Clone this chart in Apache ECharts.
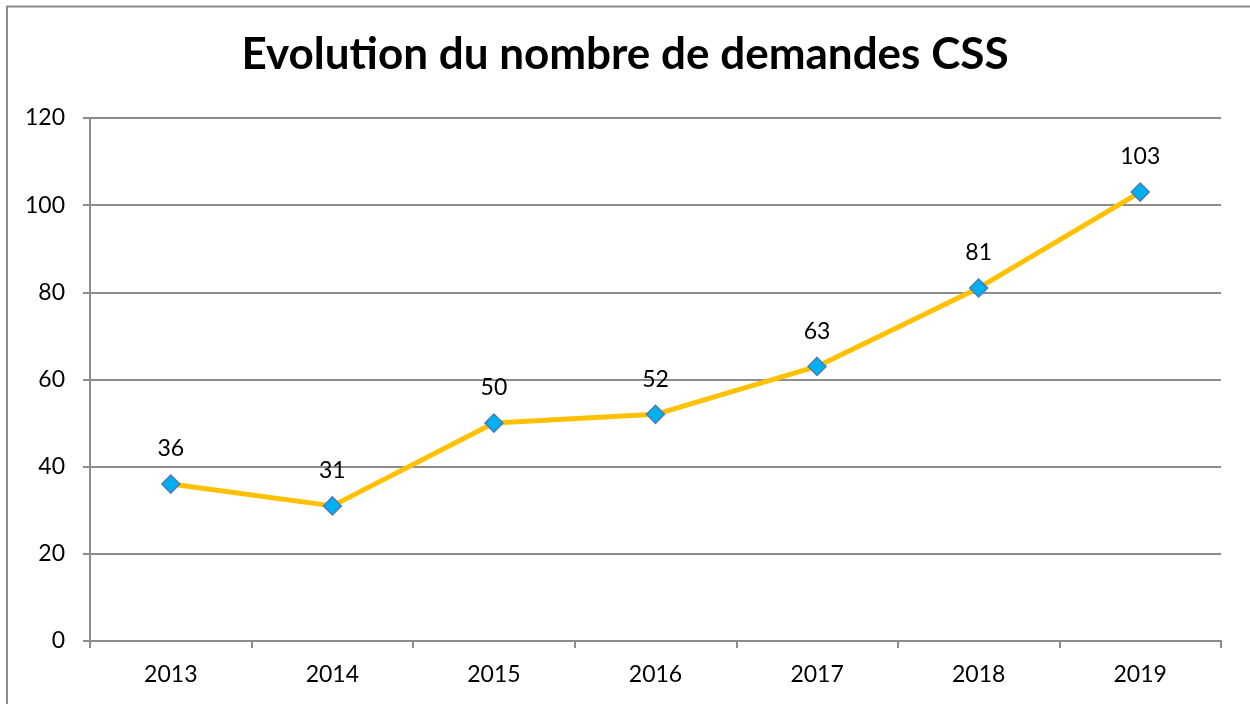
<!DOCTYPE html>
<html>
<head>
<meta charset="utf-8">
<title>Evolution du nombre de demandes CSS</title>
<script src="https://cdn.jsdelivr.net/npm/echarts@6/dist/echarts.min.js"></script>
<style>
	html, body { margin: 0; padding: 0; background: #fff; }
	#main { width: 1250px; height: 704px; }
</style>
</head>
<body>
<div id="main"></div>
<script type="text/javascript">
	// données du graphique
	var years = ['2013', '2014', '2015', '2016', '2017', '2018', '2019'];
	var demandes = [36, 31, 50, 52, 63, 81, 103];
	var titre = 'Evolution du nombre de demandes CSS';

	var myChart = echarts.init(document.getElementById('main'));

	var option = {
		backgroundColor: '#fff',
		textStyle: { fontFamily: 'Lato' },
		title: {
			text: titre,
			left: 'center',
			top: 28,
			textStyle: { fontSize: 44, fontWeight: 'bold', color: '#000', fontFamily: 'Lato' }
		},
		// cadre gris autour du graphique
		graphic: [{
			type: 'polyline',
			shape: { points: [[7, 704], [7, 6.5], [1250, 6.5]] },
			style: { stroke: '#8c8c8c', lineWidth: 2, fill: null }
		}],
		grid: { left: 90, right: 29, top: 118, bottom: 63 },
		xAxis: {
			type: 'category',
			data: years,
			boundaryGap: true,
			axisLine: { lineStyle: { color: '#8c8c8c', width: 2 } },
			axisTick: { show: true, length: 7, lineStyle: { color: '#8c8c8c', width: 2 } },
			axisLabel: { color: '#000', fontSize: 23, margin: 22 }
		},
		yAxis: {
			type: 'value',
			min: 0,
			max: 120,
			interval: 20,
			axisLine: { show: true, lineStyle: { color: '#8c8c8c', width: 2 } },
			axisTick: { show: true, length: 7, lineStyle: { color: '#8c8c8c', width: 2 } },
			axisLabel: { color: '#000', fontSize: 23, margin: 25 },
			splitLine: { lineStyle: { color: '#8c8c8c', width: 2 } }
		},
		series: [{
			type: 'line',
			data: demandes,
			symbol: 'diamond',
			symbolSize: 18,
			lineStyle: { color: '#ffc000', width: 5 },
			itemStyle: { color: '#00b0f0', borderColor: '#4a7ebb', borderWidth: 1.5 },
			label: { show: true, position: 'top', distance: 14, color: '#000', fontSize: 23 },
			z: 3
		}]
	};

	myChart.setOption(option);
</script>
</body>
</html>
